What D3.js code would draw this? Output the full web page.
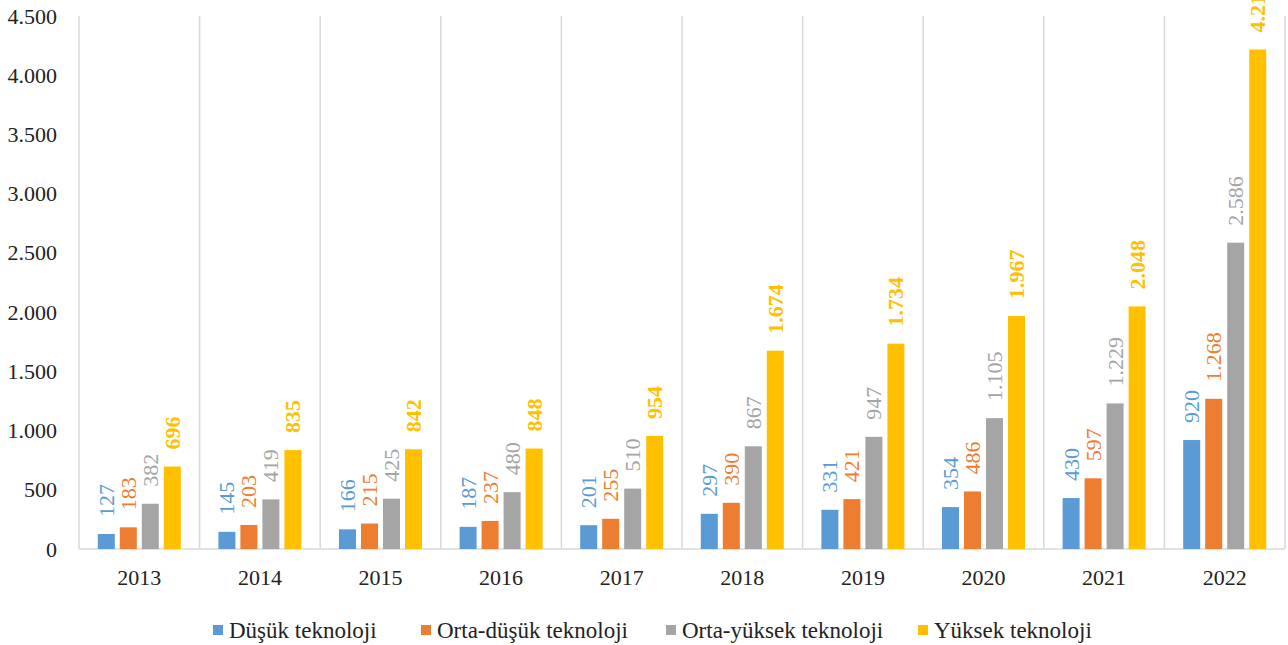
<!DOCTYPE html>
<html>
<head>
<meta charset="utf-8">
<script src="https://cdn.jsdelivr.net/npm/d3@7"></script>
<style>
  html, body { margin: 0; padding: 0; background: #fff; }
  svg { display: block; font-family: "Liberation Serif", "DejaVu Serif", serif; }
</style>
</head>
<body>
<svg id="chart" width="1288" height="645"></svg>
<script>
// Years on the category axis
const years = ["2013", "2014", "2015", "2016", "2017", "2018", "2019", "2020", "2021", "2022"];

// Series names and their values per year
const seriesNames = ["Düşük teknoloji", "Orta-düşük teknoloji", "Orta-yüksek teknoloji", "Yüksek teknoloji"];
const dusuk      = [127, 145, 166, 187, 201, 297, 331, 354, 430, 920];
const ortaDusuk  = [183, 203, 215, 237, 255, 390, 421, 486, 597, 1268];
const ortaYuksek = [382, 419, 425, 480, 510, 867, 947, 1105, 1229, 2586];
const yuksek     = [696, 835, 842, 848, 954, 1674, 1734, 1967, 2048, 4217];

// Value axis ticks
const yTicks = [0, 500, 1000, 1500, 2000, 2500, 3000, 3500, 4000, 4500];

const seriesValues = [dusuk, ortaDusuk, ortaYuksek, yuksek];
const colors = ["#5B9BD5", "#ED7D31", "#A5A5A5", "#FFC000"];
const serif = "Liberation Serif, DejaVu Serif, serif";

const tr = d3.formatLocale({ decimal: ",", thousands: ".", grouping: [3], currency: ["", " ₺"] });
const fmt = tr.format(",d");

const svg = d3.select("#chart");
const plotLeft = 79, plotRight = 1285, plotTop = 16, plotBottom = 549;

const x0 = d3.scaleBand().domain(years).range([plotLeft, plotRight]).padding(0);
const groupPad = 18.8;
const x1 = d3.scaleBand().domain(d3.range(seriesNames.length))
  .range([groupPad, x0.bandwidth() - groupPad]).paddingInner(0.227).paddingOuter(0);
const y = d3.scaleLinear().domain([0, 4500]).range([plotBottom, plotTop]);

// Vertical separators between year groups
const bounds = years.map(yr => x0(yr)).concat([plotRight]);
svg.append("g").selectAll("line").data(bounds).join("line")
  .attr("x1", d => d).attr("x2", d => d)
  .attr("y1", y(4500)).attr("y2", y(0))
  .attr("stroke", "#d9d9d9").attr("stroke-width", 1.5);

// Baseline
svg.append("line")
  .attr("x1", plotLeft).attr("x2", plotRight)
  .attr("y1", y(0)).attr("y2", y(0))
  .attr("stroke", "#d9d9d9").attr("stroke-width", 1.5);

// Value axis labels
const yAxis = d3.axisLeft(y).tickValues(yTicks).tickFormat(fmt).tickSize(0).tickPadding(22);
const yg = svg.append("g").attr("transform", `translate(${plotLeft},0)`).call(yAxis);
yg.attr("font-family", serif);
yg.select(".domain").remove();
yg.selectAll("text").attr("font-size", 22).attr("fill", "#222");

// Category axis labels
const xAxis = d3.axisBottom(x0).tickSize(0).tickPadding(20);
const xg = svg.append("g").attr("transform", `translate(0,${plotBottom})`).call(xAxis);
xg.attr("font-family", serif);
xg.select(".domain").remove();
xg.selectAll("text").attr("font-size", 22).attr("fill", "#222");

// Bars and rotated value labels
const rows = [];
years.forEach((yr, i) => {
  seriesValues.forEach((vals, s) => rows.push({ year: yr, s, v: vals[i] }));
});

const g = svg.append("g").attr("font-family", serif);
g.selectAll("rect").data(rows).join("rect")
  .attr("x", d => x0(d.year) + x1(d.s))
  .attr("y", d => y(d.v))
  .attr("width", x1.bandwidth())
  .attr("height", d => y(0) - y(d.v))
  .attr("fill", d => colors[d.s]);

g.selectAll("text").data(rows).join("text")
  .attr("transform", d => `translate(${x0(d.year) + x1(d.s) + x1.bandwidth() / 2},${y(d.v) - 17}) rotate(-90)`)
  .attr("text-anchor", "start")
  .attr("dominant-baseline", "central")
  .attr("font-size", 22)
  .attr("font-weight", d => d.s === 3 ? "bold" : "normal")
  .attr("fill", d => colors[d.s])
  .text(d => fmt(d.v));

// Legend
const legendX = [213, 421, 666, 918];
const lg = svg.append("g").attr("transform", "translate(0,630)").attr("font-family", serif);
const items = lg.selectAll("g").data(seriesNames).join("g")
  .attr("transform", (d, i) => `translate(${legendX[i]},0)`);
items.append("rect").attr("x", 0).attr("y", -5).attr("width", 10).attr("height", 10)
  .attr("fill", (d, i) => colors[i]);
items.append("text").attr("x", 16).attr("y", 0)
  .attr("dominant-baseline", "central")
  .attr("font-size", 23).attr("fill", "#222")
  .text(d => d);
</script>
</body>
</html>
